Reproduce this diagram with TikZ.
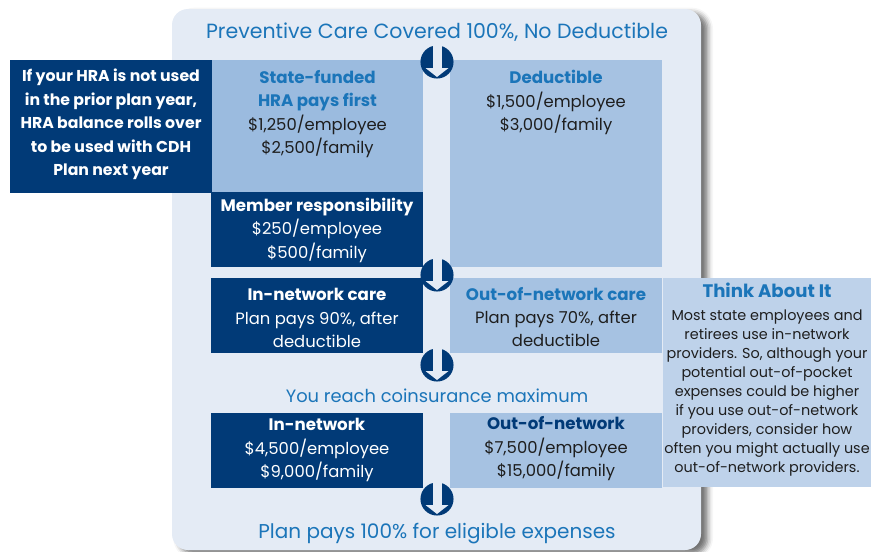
\documentclass[tikz,border=0pt]{standalone}
\usepackage{fontspec}
\setmainfont{Poppins}
\usetikzlibrary{shadows.blur}
\definecolor{navy}{HTML}{013A77}
\definecolor{panel}{HTML}{E4EBF5}
\definecolor{hrablue}{HTML}{9BBBDF}
\definecolor{boxblue}{HTML}{A6C2E2}
\definecolor{thinkblue}{HTML}{BED2EA}
\definecolor{titleblue}{HTML}{1B75B9}
\definecolor{ink}{HTML}{1E1E1E}
\newcommand{\hd}{\bfseries\fontsize{12.5}{17.6}\selectfont}
\tikzset{
  txt/.style={align=center, inner sep=0pt, text=ink, font=\fontsize{12.3}{17.6}\selectfont},
  wtxt/.style={txt, text=white},
  headline/.style={inner sep=0pt, text=titleblue, anchor=base},
  downarrow/.pic={
    \fill[navy] (0,0) circle[radius=12.4pt];
    \fill[panel] (-4.5,-17) rectangle (4.5,6.5);
    \fill[panel] (-11.5,6) -- (11.5,6) -- (0,15) -- cycle;
  }
}
\begin{document}
\begin{tikzpicture}[x=0.75pt,y=-0.75pt]
\useasboundingbox (0,0) rectangle (871,551);
% panel
\path[fill=panel, rounded corners=12pt,
  blur shadow={shadow xshift=5pt, shadow yshift=-3pt, shadow blur radius=4pt, shadow opacity=55}]
  (172,9) rectangle (701,550);
% boxes
\fill[navy] (10,60) rectangle (212,193);
\fill[hrablue] (212,60) rectangle (423,192);
\fill[navy] (211,192) rectangle (423,267);
\fill[boxblue] (450,60) rectangle (662,267);
\fill[navy] (211,278) rectangle (423,353);
\fill[boxblue] (450,278) rectangle (662,353);
\fill[thinkblue] (663,278) rectangle (871,487);
\fill[navy] (211,413) rectangle (423,488);
\fill[boxblue] (450,413) rectangle (662,488);
% headlines
\node[headline, font=\fontsize{15.4}{18}\selectfont] (top) at (437,38) {Preventive Care Covered 100\%, No Deductible};
\node[headline, font=\fontsize{13.4}{16}\selectfont] (coins) at (437,402.5) {You reach coinsurance maximum};
\node[headline, font=\fontsize{15}{18}\selectfont] (final) at (437,538) {Plan pays 100\% for eligible expenses};
% texts
\node[wtxt, font=\bfseries\fontsize{11.8}{17.6}\selectfont] (left) at (111,124.5)
  {If your HRA is not used\\in the prior plan year,\\HRA balance rolls over\\to be used with CDH\\Plan next year};
\node[txt] (hra) at (317.5,114)
  {\textcolor{titleblue}{\hd State-funded}\\\textcolor{titleblue}{\hd HRA pays first}\\\$1,250/employee\\\$2,500/family};
\node[txt] (ded) at (556,102.5)
  {\textcolor{titleblue}{\hd Deductible}\\\$1,500/employee\\\$3,000/family};
\node[wtxt] (mem) at (317,230)
  {{\hd Member responsibility}\\\$250/employee\\\$500/family};
\node[wtxt] (inc) at (317,318)
  {{\hd In-network care}\\Plan pays 90\%, after\\deductible};
\node[txt] (ooc) at (556,317)
  {\textcolor{titleblue}{\hd Out-of-network care}\\Plan pays 70\%, after\\deductible};
\node[wtxt] (inn) at (317,450)
  {{\hd In-network}\\\$4,500/employee\\\$9,000/family};
\node[txt] (oon) at (556,449)
  {\textcolor{navy}{\hd Out-of-network}\\\$7,500/employee\\\$15,000/family};
\node[headline, font=\bfseries\fontsize{13.6}{15}\selectfont] (thinkT) at (767,297) {Think About It};
\node[txt, font=\fontsize{10.8}{14.2}\selectfont] (thinkB) at (767,393)
  {Most state employees and\\retirees use in-network\\providers. So, although your\\potential out-of-pocket\\expenses could be higher\\if you use out-of-network\\providers, consider how\\often you might actually use\\out-of-network providers.};
% arrows
\pic (arr1) at (437,62) {downarrow};
\pic (arr2) at (437,275) {downarrow};
\pic (arr3) at (437,365) {downarrow};
\pic (arr4) at (437,499) {downarrow};
\end{tikzpicture}
\end{document}
